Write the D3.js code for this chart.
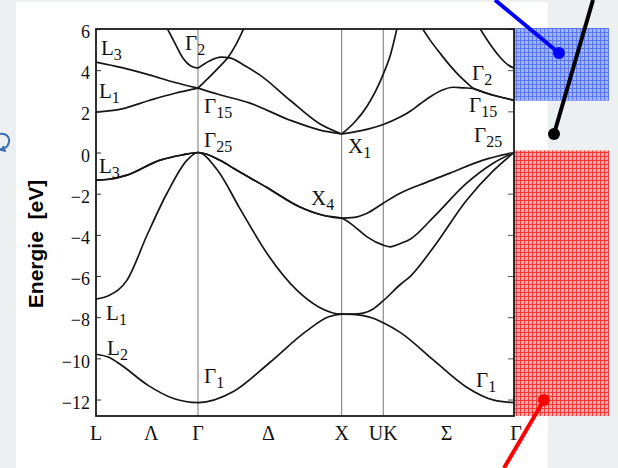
<!DOCTYPE html>
<html><head><meta charset="utf-8">
<script src="https://cdn.jsdelivr.net/npm/d3@7"></script>
<style>
html,body{margin:0;padding:0;background:#ecf0f1;}
svg{display:block;}
</style></head><body>
<svg id="chart" width="618" height="468"></svg>
<script>
// Energy axis ticks (eV)
const energyTicks = [-12, -10, -8, -6, -4, -2, 0, 2, 4, 6];

// k path L – Γ – X – U,K – Γ (path length units)
const kLabels = ["L", "Λ", "Γ", "Δ", "X", "UK", "Σ", "Γ"];
const kLabelPos = [0, 0.385, 0.71, 1.2, 1.71, 2.0, 2.44, 2.91];
const symmetryLines = [0.71, 1.71, 2.0];

// Valence bands [k, E]
const valence1 = [[0,-9.80],[0.09,-9.95],[0.18,-10.35],[0.36,-11.3],[0.54,-11.95],[0.71,-12.15],[0.96,-11.6],[1.21,-10.2],[1.46,-8.7],[1.62,-7.98],[1.71,-7.85],[1.79,-7.86],[1.86,-7.92],[1.93,-8.05],[2.0,-8.27],[2.12,-8.75],[2.35,-10.09],[2.58,-11.4],[2.77,-12.03],[2.91,-12.15]];
const valence2 = [[0,-7.12],[0.09,-6.95],[0.216,-6.2],[0.355,-4.02],[0.494,-1.98],[0.634,-0.37],[0.71,0],[0.85,-0.9],[1.0,-2.7],[1.2,-5.0],[1.4,-6.7],[1.55,-7.5],[1.71,-7.85],[1.79,-7.85],[1.86,-7.8],[1.93,-7.6],[2.0,-7.2],[2.12,-6.4],[2.19,-6.0],[2.35,-4.6],[2.58,-2.32],[2.77,-0.86],[2.91,0]];
const valence3 = [[0,-1.34],[0.09,-1.3],[0.216,-1.1],[0.446,-0.37],[0.6,-0.12],[0.71,0],[0.87,-0.4],[0.96,-0.78],[1.19,-1.7],[1.42,-2.65],[1.58,-3.05],[1.71,-3.19],[1.80,-3.6],[1.887,-4.1],[2.0,-4.5],[2.05,-4.58],[2.12,-4.42],[2.19,-4.2],[2.35,-3.14],[2.58,-1.49],[2.765,-0.52],[2.91,0]];
const valence4 = [[0,-1.34],[0.09,-1.3],[0.216,-1.1],[0.446,-0.37],[0.6,-0.12],[0.71,0],[0.87,-0.4],[0.96,-0.78],[1.19,-1.7],[1.42,-2.65],[1.58,-3.05],[1.71,-3.19],[1.80,-3.15],[1.887,-2.95],[2.0,-2.46],[2.117,-1.98],[2.30,-1.45],[2.465,-1.0],[2.695,-0.37],[2.91,0]];

// Conduction band pieces [k, E]
const condL1 = [[0,1.96],[0.18,2.12],[0.376,2.54],[0.55,2.88],[0.71,3.13]];
const condL3 = [[0,4.39],[0.18,4.12],[0.376,3.76],[0.55,3.4],[0.71,3.13]];
const condLambda2 = [[0.494,6.05],[0.55,5.3],[0.606,4.58],[0.66,4.2],[0.71,4.1]];
const condDelta5 = [[0.71,3.13],[0.78,3.6],[0.85,4.1],[0.92,4.63],[0.975,5.25],[1.03,6.05]];
const condDelta2 = [[0.71,4.1],[0.79,4.45],[0.87,4.63],[0.93,4.6],[1.04,4.2],[1.142,3.76],[1.351,2.54],[1.56,1.38],[1.71,0.9]];
const condDelta1 = [[0.71,3.13],[0.85,2.83],[1.072,2.4],[1.351,1.57],[1.56,1.09],[1.71,0.9]];
const condXK1 = [[1.71,0.9],[1.8,1.0],[1.9,1.15],[2.0,1.36],[2.117,1.72],[2.19,2.02],[2.26,2.38],[2.33,2.72],[2.40,3.0],[2.486,3.17],[2.56,3.14],[2.62,3.12],[2.70,2.92],[2.80,2.72],[2.91,2.54]];
const condXK2 = [[1.71,0.9],[1.80,1.47],[1.887,2.25],[2.0,3.81],[2.05,4.75],[2.096,6.05]];
const condSigma1 = [[2.27,6.05],[2.326,5.46],[2.40,4.78],[2.465,4.22],[2.53,3.72],[2.584,3.37],[2.62,3.15],[2.70,2.93],[2.80,2.72],[2.91,2.54]];
const condSigma2 = [[2.67,6.05],[2.74,5.3],[2.813,4.63],[2.87,4.25],[2.91,4.1]];

const bands = [valence1, valence2, valence3, valence4,
  condL1, condL3, condLambda2, condDelta5, condDelta2, condDelta1,
  condXK1, condXK2, condSigma1, condSigma2];

// Symmetry labels of the band states
const stateName = ["L","L","Γ","Γ","Γ","X","L","X","L","L","Γ","Γ","Γ","Γ","Γ"];
const stateSub  = ["3","1","2","15","25","1","3","4","1","2","1","1","2","15","25"];
const stateK    = [0.035,0.021,0.62,0.752,0.752,1.755,0.021,1.497,0.07,0.077,0.752,2.646,2.618,2.597,2.632];
const stateE    = [4.73,2.64,4.97,1.91,0.26,-0.03,-1.0,-2.56,-8.14,-9.84,-11.2,-11.4,3.51,1.96,0.5];

// Energy ranges of the shaded bands
const conductionRange = [2.52, 6.05];
const valenceRange = [-12.8, 0.1];

const svg = d3.select("#chart");
const W = 618, H = 468;
const plot = {left: 96, right: 514, top: 29, bottom: 416};
const serif = "'Liberation Serif','Times New Roman',serif";

const x = d3.scaleLinear().domain([0, 2.91]).range([plot.left, plot.right]);
const y = d3.scaleLinear().domain([-12.8, 6]).range([plot.bottom, plot.top]);

// page background + white panel
svg.append("rect").attr("width", W).attr("height", H).attr("fill", "#ecf0f1");
svg.append("rect").attr("x", 16).attr("y", 2).attr("width", 532).attr("height", H - 2).attr("fill", "#ffffff");

// small blue glyph at the left edge
svg.append("path")
  .attr("d", "M0,134 C6,133 10,137 9,142 C8,147 4,150 0,149 M4,146 L1,150 L6,151")
  .attr("fill", "none").attr("stroke", "#3d6cb5").attr("stroke-width", 2);

const defs = svg.append("defs");
defs.append("clipPath").attr("id", "plotClip")
  .append("rect").attr("x", plot.left).attr("y", plot.top)
  .attr("width", plot.right - plot.left).attr("height", plot.bottom - plot.top);

function gridPattern(id, bg, line) {
  const p = defs.append("pattern").attr("id", id).attr("width", 4).attr("height", 4)
    .attr("patternUnits", "userSpaceOnUse");
  p.append("rect").attr("width", 4).attr("height", 4).attr("fill", bg);
  p.append("path").attr("d", "M0,0.5 H4 M0.5,0 V4").attr("stroke", line).attr("stroke-width", 1);
}
gridPattern("gridBlue", "#a3b4ff", "#5a78f0");
gridPattern("gridRed", "#ffaaaa", "#f03a3a");

// symmetry point verticals
svg.append("g").selectAll("line").data(symmetryLines).join("line")
  .attr("x1", d => x(d)).attr("x2", d => x(d))
  .attr("y1", plot.top).attr("y2", plot.bottom)
  .attr("stroke", "#8c8c8c").attr("stroke-width", 1.2);

// bands
const line = d3.line().x(d => x(d[0])).y(d => y(d[1])).curve(d3.curveMonotoneX);
svg.append("g").attr("clip-path", "url(#plotClip)")
  .selectAll("path").data(bands).join("path")
  .attr("d", line).attr("fill", "none")
  .attr("stroke", "#161616").attr("stroke-width", 1.7);

// axes
const yLeft = svg.append("g").attr("transform", `translate(${plot.left},0)`)
  .call(d3.axisLeft(y).tickValues(energyTicks).tickSizeInner(-5).tickSizeOuter(0).tickPadding(6));
yLeft.select(".domain").remove();
yLeft.selectAll("line").attr("stroke", "#333");
yLeft.selectAll("text").attr("font-family", serif).attr("font-size", 18).attr("fill", "#111").attr("dy", "0.48em");

const yRight = svg.append("g").attr("transform", `translate(${plot.right},0)`)
  .call(d3.axisRight(y).tickValues(energyTicks).tickSizeInner(-6).tickSizeOuter(0).tickFormat(""));
yRight.select(".domain").remove();
yRight.selectAll("line").attr("stroke", "#555");

// k labels
svg.append("g").selectAll("text").data(kLabels).join("text")
  .attr("x", (d, i) => x(kLabelPos[i]) + (i === kLabels.length - 1 ? 2 : 0))
  .attr("y", 440)
  .attr("text-anchor", "middle")
  .attr("font-family", serif).attr("font-size", 20).attr("fill", "#111")
  .text(d => d);

// shaded band regions
const boxX0 = plot.right, boxX1 = 609;
svg.append("rect").attr("x", boxX0).attr("width", boxX1 - boxX0)
  .attr("y", y(conductionRange[1])).attr("height", y(conductionRange[0]) - y(conductionRange[1]))
  .attr("fill", "url(#gridBlue)");
svg.append("rect").attr("x", boxX0).attr("width", boxX1 - boxX0)
  .attr("y", y(valenceRange[1])).attr("height", y(valenceRange[0]) - y(valenceRange[1]))
  .attr("fill", "url(#gridRed)");

// frame
svg.append("rect").attr("x", plot.left).attr("y", plot.top)
  .attr("width", plot.right - plot.left).attr("height", plot.bottom - plot.top)
  .attr("fill", "none").attr("stroke", "#1a1a1a").attr("stroke-width", 1.8);

// state labels with subscripts
const lab = svg.append("g").selectAll("text").data(stateName).join("text")
  .attr("x", (d, i) => x(stateK[i])).attr("y", (d, i) => y(stateE[i]))
  .attr("font-family", serif).attr("font-size", 21).attr("fill", "#111");
lab.append("tspan").text(d => d);
lab.append("tspan").attr("font-size", 16).attr("dy", 5).text((d, i) => stateSub[i]);

// axis title
svg.append("text")
  .attr("transform", "translate(43,244) rotate(-90)")
  .attr("text-anchor", "middle")
  .attr("font-family", "'Liberation Sans',Arial,sans-serif")
  .attr("font-weight", "bold").attr("font-size", 21).attr("fill", "#000")
  .attr("xml:space", "preserve")
  .style("white-space", "pre")
  .text("Energie  [eV]");

// pointer lines
const pointers = [
  {from: [495, 0], to: [559, 53], color: "#0000ff"},
  {from: [593, 0], to: [554, 134], color: "#000000"},
  {from: [504, 468], to: [544, 400], color: "#ff0000"}
];
const pg = svg.append("g");
pointers.forEach(p => {
  pg.append("line").attr("x1", p.from[0]).attr("y1", p.from[1])
    .attr("x2", p.to[0]).attr("y2", p.to[1])
    .attr("stroke", p.color).attr("stroke-width", 4);
  pg.append("circle").attr("cx", p.to[0]).attr("cy", p.to[1]).attr("r", 6).attr("fill", p.color);
});
</script>
</body></html>
